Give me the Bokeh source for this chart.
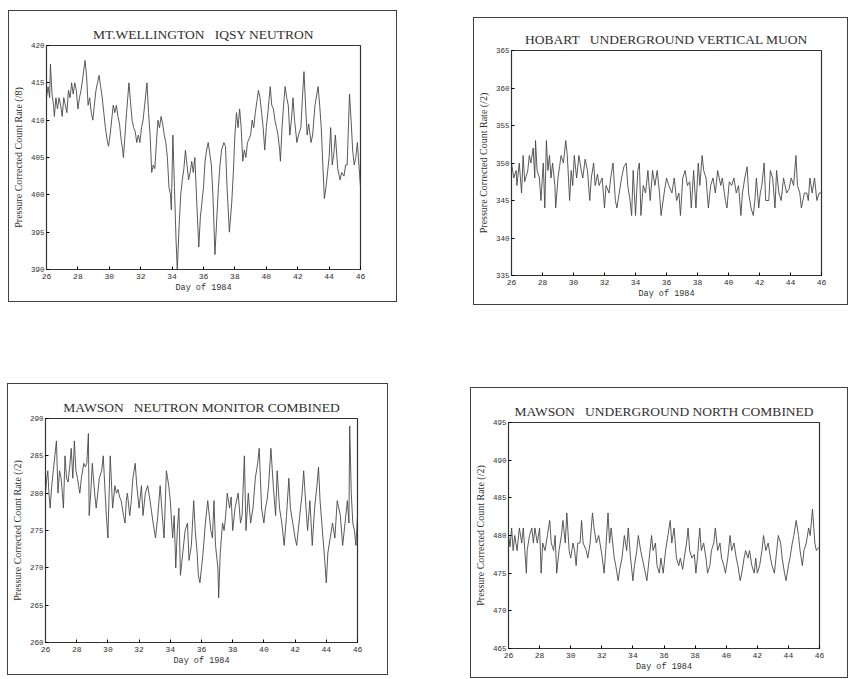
from bokeh.plotting import figure
from bokeh.models import Range1d, FixedTicker, Spacer
from bokeh.layouts import row, column
from bokeh.embed import file_html
from bokeh.resources import INLINE

# ---------------- data ----------------
x_ticks = [26, 28, 30, 32, 34, 36, 38, 40, 42, 44, 46]
x_label = "Day of 1984"
y_label_mw = "Pressure Corrected Count Rate (/8)"
y_label = "Pressure Corrected Count Rate (/2)"

titles = ["MT.WELLINGTON\u00a0\u00a0 IQSY NEUTRON",
          "HOBART\u00a0\u00a0 UNDERGROUND VERTICAL MUON",
          "MAWSON\u00a0\u00a0 NEUTRON MONITOR COMBINED",
          "MAWSON\u00a0\u00a0 UNDERGROUND NORTH COMBINED"]

mw_ticks = [390, 395, 400, 405, 410, 415, 420]
hob_ticks = [335, 340, 345, 350, 355, 360, 365]
mnm_ticks = [260, 265, 270, 275, 280, 285, 290]
mug_ticks = [465, 470, 475, 480, 485, 490, 495]

mw_day = [26.0, 26.1, 26.2, 26.25, 26.35, 26.45, 26.5, 26.6, 26.7, 26.8, 26.9, 27.0, 27.1, 27.2, 27.3,
          27.4, 27.5, 27.6, 27.7, 27.8, 27.9, 28.0, 28.1, 28.2, 28.3, 28.45, 28.55, 28.65, 28.75, 28.85,
          28.95, 29.05, 29.15, 29.25, 29.35, 29.45, 29.55, 29.65, 29.75, 29.85, 29.95, 30.05, 30.15, 30.25,
          30.35, 30.45, 30.55, 30.65, 30.75, 30.85, 30.9, 31.0, 31.1, 31.25, 31.35, 31.45, 31.55, 31.65,
          31.75, 31.85, 31.95, 32.05, 32.15, 32.25, 32.4, 32.5, 32.6, 32.7, 32.8, 32.9, 33.0, 33.1, 33.2,
          33.3, 33.4, 33.5, 33.6, 33.7, 33.8, 33.9, 33.95, 34.05, 34.15, 34.25, 34.33, 34.45, 34.55, 34.65,
          34.75, 34.85, 34.95, 35.05, 35.15, 35.25, 35.35, 35.45, 35.55, 35.7, 35.8, 35.9, 36.0, 36.1,
          36.2, 36.3, 36.4, 36.5, 36.6, 36.73, 36.85, 36.95, 37.05, 37.15, 37.3, 37.4, 37.5, 37.65, 37.8,
          37.9, 38.0, 38.1, 38.2, 38.3, 38.4, 38.5, 38.6, 38.7, 38.8, 38.9, 39.0, 39.1, 39.2, 39.3, 39.4,
          39.5, 39.6, 39.7, 39.8, 39.9, 40.0, 40.1, 40.25, 40.35, 40.45, 40.55, 40.65, 40.75, 40.85, 40.9,
          41.0, 41.1, 41.2, 41.3, 41.4, 41.5, 41.6, 41.7, 41.8, 41.9, 41.95, 42.05, 42.2, 42.3, 42.4, 42.5,
          42.6, 42.7, 42.85, 42.95, 43.1, 43.3, 43.4, 43.5, 43.6, 43.7, 43.8, 43.9, 44.0, 44.1, 44.2, 44.3,
          44.4, 44.55, 44.7, 44.8, 44.95, 45.05, 45.15, 45.3, 45.4, 45.5, 45.6, 45.7, 45.8, 45.9, 46.0]
mw_val = [413, 414.5, 413, 417.5, 413.5, 412, 410.5, 413, 411.5, 413, 412, 410.5, 413, 412, 411,
          414, 413, 415, 413.5, 415, 414, 411.5, 413, 414, 415.5, 418, 416, 412, 413, 411,
          410, 412, 414, 415, 416, 414.5, 413, 411, 409, 407.5, 406.5, 408, 410, 412,
          411, 412, 410.5, 409.5, 407.5, 406, 405, 408, 411, 415, 412.5, 410, 409, 408.5,
          407, 408, 407, 409, 410, 412, 415, 411, 408, 403, 404, 403.5, 407, 410, 409,
          410.5, 409.5, 408, 407, 405, 401, 400, 398, 408, 401, 394, 390, 396, 400, 402,
          403.5, 406, 404, 402, 403, 404.5, 403, 405, 400, 393, 397, 399, 401, 404.5,
          406, 407, 405.5, 404, 400, 392, 397, 401, 404, 406, 407, 406.5, 401, 395, 399,
          403, 408, 411, 409, 411.5, 409, 404.5, 406, 405, 407, 407.5, 408, 410, 409, 411, 412.5,
          414, 413, 411, 409, 406, 409, 411, 414.5, 412, 411.5, 410, 409, 408, 406, 404.5,
          409, 412, 414.5, 413, 412, 408, 410, 413, 410, 408, 407, 408, 409, 413, 416.5, 412,
          408, 409.5, 407, 408, 412, 414.5, 412, 409, 404, 399.5, 401, 403, 405, 409, 404, 405.5,
          408, 403.5, 402, 403, 402.5, 404, 404, 413.5, 410, 406, 404, 405, 407, 404, 401]

hob_day = [26.0, 26.15, 26.3, 26.35, 26.5, 26.65, 26.75, 26.85, 27.05, 27.15, 27.25, 27.4, 27.5, 27.55,
           27.65, 27.8, 27.9, 28.05, 28.15, 28.25, 28.35, 28.45, 28.55, 28.65, 28.8, 28.85, 29.0, 29.1,
           29.2, 29.35, 29.5, 29.6, 29.75, 29.85, 29.95, 30.05, 30.2, 30.35, 30.5, 30.6, 30.75, 30.9,
           31.05, 31.15, 31.3, 31.4, 31.55, 31.65, 31.85, 32.0, 32.1, 32.3, 32.4, 32.55, 32.7, 32.8,
           32.95, 33.1, 33.25, 33.4, 33.5, 33.65, 33.75, 33.85, 34.0, 34.15, 34.25, 34.35, 34.5, 34.65,
           34.8, 34.95, 35.1, 35.25, 35.4, 35.55, 35.65, 35.85, 36.0, 36.15, 36.35, 36.5, 36.65, 36.8,
           36.9, 37.05, 37.2, 37.35, 37.5, 37.6, 37.75, 37.9, 38.05, 38.15, 38.3, 38.4, 38.55, 38.7,
           38.85, 39.0, 39.15, 39.3, 39.5, 39.6, 39.8, 39.9, 40.05, 40.2, 40.35, 40.5, 40.65, 40.8,
           40.9, 41.05, 41.2, 41.3, 41.45, 41.6, 41.7, 41.8, 41.95, 42.05, 42.15, 42.3, 42.4, 42.6,
           42.7, 42.85, 43.0, 43.1, 43.25, 43.4, 43.55, 43.75, 43.9, 44.05, 44.2, 44.35, 44.45, 44.6,
           44.7, 44.9, 45.05, 45.15, 45.25, 45.4, 45.55, 45.7, 45.85, 46.0]
hob_val = [350, 348, 349, 347, 350, 346, 351, 347.5, 349, 351, 350, 352, 348, 353,
           349, 348, 345, 350, 344, 353, 349, 351, 348, 350, 347, 344, 348, 349.5,
           351, 350, 353, 351, 345, 349, 347, 351, 348, 351, 349, 348, 350.5, 349,
           345, 348, 350, 347, 348.5, 347, 348, 344, 347, 346, 348, 350, 345, 344,
           346, 348, 349.5, 350, 347, 345, 343, 349, 343, 349, 350, 343, 347, 346,
           349, 345, 349, 347, 349, 346, 343, 346, 348, 347, 346, 348, 345, 346,
           343, 348, 349, 347, 347.5, 344, 349, 344, 350, 347, 351, 349, 348, 344,
           347, 348, 346, 349, 347, 348, 345, 344, 347.5, 347, 348, 346, 347, 343,
           346, 348, 349.5, 346, 344, 343, 345, 348, 344, 346, 347, 350, 345, 345,
           349, 348, 344, 349, 346, 345, 348, 346, 346.5, 348, 347, 351, 347, 346,
           344, 346, 346, 345, 348, 346, 348, 345, 346, 346]

mnm_day = [26.0, 26.08, 26.15, 26.22, 26.3, 26.4, 26.5, 26.6, 26.7, 26.8, 26.9, 27.0, 27.08, 27.15,
           27.25, 27.35, 27.45, 27.55, 27.65, 27.75, 27.85, 27.95, 28.05, 28.12, 28.2, 28.3, 28.45,
           28.55, 28.65, 28.75, 28.8, 28.9, 29.0, 29.15, 29.25, 29.35, 29.45, 29.6, 29.7, 29.8, 29.9,
           30.0, 30.08, 30.15, 30.3, 30.45, 30.55, 30.65, 30.75, 30.85, 31.0, 31.1, 31.18, 31.25, 31.4,
           31.5, 31.6, 31.75, 31.85, 32.0, 32.15, 32.25, 32.4, 32.55, 32.7, 32.8, 32.9, 33.05, 33.2,
           33.35, 33.45, 33.6, 33.75, 33.9, 34.0, 34.15, 34.25, 34.35, 34.45, 34.55, 34.65, 34.8, 34.95,
           35.1, 35.2, 35.35, 35.5, 35.6, 35.72, 35.8, 35.9, 36.0, 36.1, 36.25, 36.4, 36.5, 36.6, 36.7,
           36.8, 36.9, 37.05, 37.1, 37.2, 37.35, 37.45, 37.55, 37.65, 37.8, 37.9, 38.0, 38.15, 38.35,
           38.5, 38.6, 38.75, 38.85, 39.0, 39.15, 39.3, 39.45, 39.6, 39.7, 39.85, 40.0, 40.1, 40.2,
           40.3, 40.45, 40.6, 40.75, 40.85, 41.0, 41.15, 41.3, 41.45, 41.6, 41.7, 41.85, 42.0, 42.1,
           42.3, 42.45, 42.55, 42.7, 42.8, 42.95, 43.1, 43.25, 43.4, 43.5, 43.6, 43.75, 43.9, 44.0,
           44.1, 44.25, 44.4, 44.55, 44.7, 44.9, 45.05, 45.2, 45.35, 45.45, 45.5, 45.6, 45.7, 45.8,
           45.9, 46.0]
mnm_val = [280, 282, 283, 280, 278, 281, 283, 285, 287, 280, 283, 282, 280, 278,
           285, 282, 281.5, 283.5, 286, 282, 287, 283, 282, 281, 280, 282, 284,
           283.5, 284, 288, 277, 280, 284, 280, 278, 280, 282, 283, 285, 281, 277,
           274, 280, 285, 278, 281, 280, 280.5, 279.5, 279, 277, 276, 279, 280, 277,
           279, 282, 284, 281, 278, 281, 277, 280, 281, 279, 277.5, 276, 274, 277,
           281, 278, 274, 283, 281, 279, 274, 277, 270, 275, 278, 269, 272, 275,
           276, 271, 273, 279, 275, 272, 269, 268, 270, 272, 276, 279, 277, 275, 274,
           279, 273, 270, 266, 272, 276, 275, 277, 280, 278, 279.5, 275, 278, 280,
           276, 277, 285, 275, 280, 276, 278, 282, 284, 286, 278, 276, 278, 279,
           281, 286, 281, 277, 283, 278, 276, 273, 277, 282, 278, 276, 274, 273,
           277, 280, 283, 278, 275, 279, 273, 278, 281, 283.5, 279, 275, 271, 268,
           272, 274, 276, 274, 279, 277, 273, 276, 279, 276, 289, 280, 276, 275,
           273, 277]

mug_day = [26.0, 26.1, 26.2, 26.3, 26.4, 26.55, 26.7, 26.85, 26.95, 27.05, 27.15, 27.2, 27.35, 27.5,
           27.6, 27.7, 27.85, 28.0, 28.1, 28.2, 28.35, 28.5, 28.65, 28.75, 28.9, 29.0, 29.1, 29.25,
           29.4, 29.5, 29.65, 29.75, 29.9, 30.0, 30.15, 30.25, 30.35, 30.45, 30.6, 30.7, 30.8, 31.0,
           31.1, 31.25, 31.4, 31.5, 31.65, 31.8, 32.0, 32.15, 32.25, 32.4, 32.5, 32.6, 32.8, 32.9,
           33.05, 33.15, 33.3, 33.45, 33.6, 33.7, 33.85, 34.0, 34.1, 34.25, 34.35, 34.5, 34.6, 34.75,
           34.9, 35.05, 35.2, 35.3, 35.45, 35.55, 35.7, 35.8, 35.95, 36.1, 36.25, 36.4, 36.5, 36.65,
           36.8, 36.95, 37.05, 37.2, 37.3, 37.45, 37.55, 37.65, 37.8, 37.95, 38.05, 38.15, 38.3, 38.4,
           38.55, 38.7, 38.8, 38.95, 39.05, 39.2, 39.3, 39.45, 39.6, 39.7, 39.85, 39.95, 40.1, 40.25,
           40.35, 40.5, 40.65, 40.75, 40.9, 41.0, 41.15, 41.25, 41.4, 41.5, 41.65, 41.8, 41.9, 42.0,
           42.15, 42.3, 42.4, 42.55, 42.7, 42.85, 42.95, 43.1, 43.2, 43.35, 43.5, 43.6, 43.75, 43.85,
           44.0, 44.1, 44.25, 44.35, 44.5, 44.65, 44.75, 44.9, 45.0, 45.15, 45.3, 45.4, 45.55, 45.7,
           45.8, 46.0]
mug_val = [480, 478.5, 481, 478, 480, 478, 481, 479, 481, 478, 475, 478, 480, 481,
           479, 481, 479, 481, 475, 479, 478, 480, 482, 479, 478, 480, 475, 478,
           480, 482, 479, 483, 478, 477, 479, 478, 476, 479, 479, 482, 479, 478,
           477, 479, 483, 481, 479, 480, 477.5, 475, 478, 483, 479, 481, 477, 476,
           474, 475.5, 477, 480, 478, 481, 477, 474, 476, 478, 480, 478, 477, 475.5,
           474, 477, 480, 478, 479, 476, 475, 477, 475, 478, 480, 482, 479, 481,
           477, 476, 477, 475.5, 477, 479, 481, 478, 477, 477.5, 475, 477, 481, 478,
           479, 477, 475, 476, 478, 479, 481, 478, 479, 477, 476, 475, 477, 480,
           478, 479, 477, 476, 474, 475, 477, 478, 477, 478, 476, 475, 477, 475,
           476, 478, 480, 478, 479, 477, 476, 475, 477, 480, 479, 477, 475, 474,
           476, 477, 479, 480, 482, 480, 478, 476, 478, 479, 481, 480, 483.5, 479,
           478, 478.5]

LINE = "#474747"
INK = "#2f2f2f"


def make_panel(title, days, vals, yticks, ylab, w, h, bl, br, bt, bb):
    p = figure(width=w, height=h, output_backend="svg", toolbar_location=None,
               x_range=Range1d(x_ticks[0], x_ticks[-1]), y_range=Range1d(yticks[0], yticks[-1]),
               min_border_left=bl, min_border_right=br, min_border_top=bt, min_border_bottom=bb,
               title=title, background_fill_color="white", border_fill_color="white",
               styles={"border": "1.5px solid #404040"})
    p.title.align = "center"
    p.title.text_font = "Liberation Serif"
    p.title.text_font_size = "13.5px"
    p.title.text_font_style = "normal"
    p.title.text_color = INK
    p.title.standoff = 7
    p.outline_line_color = "#333333"
    p.outline_line_width = 1.2
    p.xgrid.visible = False
    p.ygrid.visible = False

    xa = p.xaxis[0]
    xa.ticker = FixedTicker(ticks=x_ticks)
    xa.axis_label = x_label
    xa.axis_label_text_font = "Liberation Mono"
    xa.axis_label_text_font_size = "8.5px"
    xa.axis_label_text_font_style = "normal"
    xa.axis_label_text_color = INK
    xa.axis_label_standoff = 1
    xa.major_label_text_font = "Liberation Mono"
    xa.major_label_text_font_size = "8px"
    xa.major_label_text_color = INK
    xa.major_label_standoff = 4
    xa.major_tick_in = 3
    xa.major_tick_out = 0
    xa.minor_tick_line_color = None
    xa.axis_line_color = "#333333"

    ya = p.yaxis[0]
    ya.ticker = FixedTicker(ticks=yticks)
    ya.axis_label = ylab
    ya.axis_label_text_font = "Liberation Serif"
    ya.axis_label_text_font_size = "10px"
    ya.axis_label_text_font_style = "normal"
    ya.axis_label_text_color = INK
    ya.axis_label_standoff = 4
    ya.major_label_text_font = "Liberation Mono"
    ya.major_label_text_font_size = "7.5px"
    ya.major_label_text_color = INK
    ya.major_label_standoff = 2
    ya.major_tick_in = 3
    ya.major_tick_out = 0
    ya.minor_tick_line_color = None
    ya.axis_line_color = "#333333"

    p.line(x=days, y=vals, line_color=LINE, line_width=0.9)
    return p


p1 = make_panel(titles[0], mw_day, mw_val, mw_ticks, y_label_mw, 389, 292, 36, 38, 34, 34)
p2 = make_panel(titles[1], hob_day, hob_val, hob_ticks, y_label, 375, 288, 34, 28, 32, 31)
p3 = make_panel(titles[2], mnm_day, mnm_val, mnm_ticks, y_label, 381, 292, 32, 32, 34, 34)
p4 = make_panel(titles[3], mug_day, mug_val, mug_ticks, y_label, 378, 291, 34, 30, 34, 31)

left_col = column(Spacer(height=10), row(Spacer(width=1), p1), Spacer(height=81), p3)
right_col = column(Spacer(height=17), row(Spacer(width=3), p2), Spacer(height=82), p4)
layout = row(Spacer(width=7), left_col, Spacer(width=73), right_col)

with open("out.html", "w") as f:
    f.write(file_html(layout, INLINE))
